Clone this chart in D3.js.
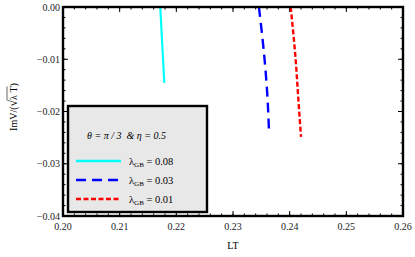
<!DOCTYPE html>
<html>
<head>
<meta charset="utf-8">
<script src="https://cdn.jsdelivr.net/npm/d3@7"></script>
<style>
  body { margin: 0; background: #fff; }
</style>
</head>
<body>
<div class="chart"></div>
<script>
// chart size, same as the window
const W = 415, H = 257;
const M = {top: 7, right: 12, bottom: 41, left: 63};
const FONT = "'Liberation Serif', 'Times New Roman', serif";

// data
const xTicks = [0.20, 0.21, 0.22, 0.23, 0.24, 0.25, 0.26];
const yTicks = [0.00, -0.01, -0.02, -0.03, -0.04];

const cyanX = [0.21717, 0.21752, 0.21788];
const cyanY = [0, -0.00727, -0.01453];
const blueX = [0.23457, 0.23558, 0.23611, 0.23634];
const blueY = [0, -0.01013, -0.01778, -0.02352];
const redX = [0.24018, 0.24106, 0.24154, 0.24200];
const redY = [0, -0.01013, -0.01778, -0.02486];

const labels = ["0.08", "0.03", "0.01"];

const svg = d3.select(".chart")
  .append("svg")
  .attr("width", W)
  .attr("height", H)
  .style("font-family", FONT);

const x = d3.scaleLinear().domain([0.20, 0.26]).range([M.left, W - M.right]);
const y = d3.scaleLinear().domain([-0.04, 0]).range([H - M.bottom, M.top]);

// minor tick positions
const xMinor = d3.range(0, 31).map(i => 0.20 + i * 0.002);
const yMinor = d3.range(0, 21).map(i => -0.04 + i * 0.002);

function tickMarks(g, vals, scale, orient, len) {
  g.selectAll(null).data(vals).enter().append("line")
    .attr("stroke", "#000").attr("stroke-width", 1)
    .each(function(v) {
      const s = d3.select(this);
      const p = scale(v);
      if (orient == "bottom") s.attr("x1", p).attr("x2", p).attr("y1", y(-0.04)).attr("y2", y(-0.04) - len);
      if (orient == "top") s.attr("x1", p).attr("x2", p).attr("y1", y(0)).attr("y2", y(0) + len);
      if (orient == "left") s.attr("y1", p).attr("y2", p).attr("x1", x(0.20)).attr("x2", x(0.20) + len);
      if (orient == "right") s.attr("y1", p).attr("y2", p).attr("x1", x(0.26)).attr("x2", x(0.26) - len);
    });
}

const ticks = svg.append("g");
tickMarks(ticks, xMinor, x, "bottom", 2.5);
tickMarks(ticks, xMinor, x, "top", 2.5);
tickMarks(ticks, yMinor, y, "left", 2.5);
tickMarks(ticks, yMinor, y, "right", 2.5);
tickMarks(ticks, xTicks, x, "bottom", 5);
tickMarks(ticks, xTicks, x, "top", 5);
tickMarks(ticks, yTicks, y, "left", 5);
tickMarks(ticks, yTicks, y, "right", 5);

// tick labels
svg.append("g").selectAll("text").data(xTicks).enter().append("text")
  .attr("x", d => x(d)).attr("y", y(-0.04) + 14)
  .attr("text-anchor", "middle").attr("font-size", 10).attr("fill", "#222")
  .text(d => d.toFixed(2));

svg.append("g").selectAll("text").data(yTicks).enter().append("text")
  .attr("x", x(0.20) - 3).attr("y", d => y(d) + 3.5)
  .attr("text-anchor", "end").attr("font-size", 10).attr("fill", "#222")
  .text(d => d == 0 ? "0.00" : "\u2212" + Math.abs(d).toFixed(2));

// curves
const line = d3.line().x(d => x(d[0])).y(d => y(d[1])).curve(d3.curveMonotoneY);
const series = [
  {xs: cyanX, ys: cyanY, color: "#00ffff", dash: null, w: 2.2},
  {xs: blueX, ys: blueY, color: "#0000ff", dash: "10,6", w: 2.4},
  {xs: redX, ys: redY, color: "#ff0000", dash: "5,2.5", w: 2.4}
];
svg.append("g").selectAll("path").data(series).enter().append("path")
  .attr("d", s => line(s.xs.map((v, i) => [v, s.ys[i]])))
  .attr("fill", "none")
  .attr("stroke", s => s.color)
  .attr("stroke-width", s => s.w)
  .attr("stroke-dasharray", s => s.dash);

// frame
svg.append("rect")
  .attr("x", x(0.20)).attr("y", y(0))
  .attr("width", x(0.26) - x(0.20)).attr("height", y(-0.04) - y(0))
  .attr("fill", "none").attr("stroke", "#000").attr("stroke-width", 2.4);

// legend
const lg = svg.append("g");
lg.append("rect")
  .attr("x", 68).attr("y", 106).attr("width", 139).attr("height", 106)
  .attr("fill", "#e8e8e8").attr("stroke", "#000").attr("stroke-width", 2.4);

lg.append("text")
  .attr("x", 87).attr("y", 138.5)
  .attr("font-size", 10).attr("font-style", "italic")
  .attr("xml:space", "preserve")
  .text("\u03b8 = \u03c0 / 3  & \u03b7 = 0.5");

series.forEach((s, i) => {
  const yy = 161 + i * 19;
  lg.append("line")
    .attr("x1", 76).attr("x2", 121).attr("y1", yy).attr("y2", yy)
    .attr("stroke", s.color).attr("stroke-width", 2.4)
    .attr("stroke-dasharray", s.dash);
  const t = lg.append("text").attr("x", 129).attr("y", yy + 3.5).attr("font-size", 10.5);
  t.append("tspan").text("\u03bb");
  t.append("tspan").attr("font-size", 7).attr("dy", 2).text("GB");
  t.append("tspan").attr("dy", -2).text(" = " + labels[i]);
});

// axis titles
svg.append("text")
  .attr("x", 233).attr("y", 249)
  .attr("text-anchor", "middle").attr("font-size", 10)
  .text("LT");

const yl = svg.append("g").attr("transform", "translate(17,107) rotate(-90)");
const ylt = yl.append("text").attr("font-size", 10).attr("text-anchor", "start");
ylt.append("tspan").text("ImV/(");
ylt.append("tspan").attr("font-size", 12).text("\u221a");
ylt.append("tspan").text("\u03bb T)");
const full = ylt.node().getComputedTextLength();
ylt.attr("x", -full / 2);
// bar over the radicand
const pre = ylt.node().getSubStringLength(0, 6);
const rad = ylt.node().getSubStringLength(6, 3);
yl.append("line")
  .attr("x1", -full / 2 + pre - 0.5).attr("x2", -full / 2 + pre + rad)
  .attr("y1", -10).attr("y2", -10)
  .attr("stroke", "#000").attr("stroke-width", 0.6);
</script>
</body>
</html>
